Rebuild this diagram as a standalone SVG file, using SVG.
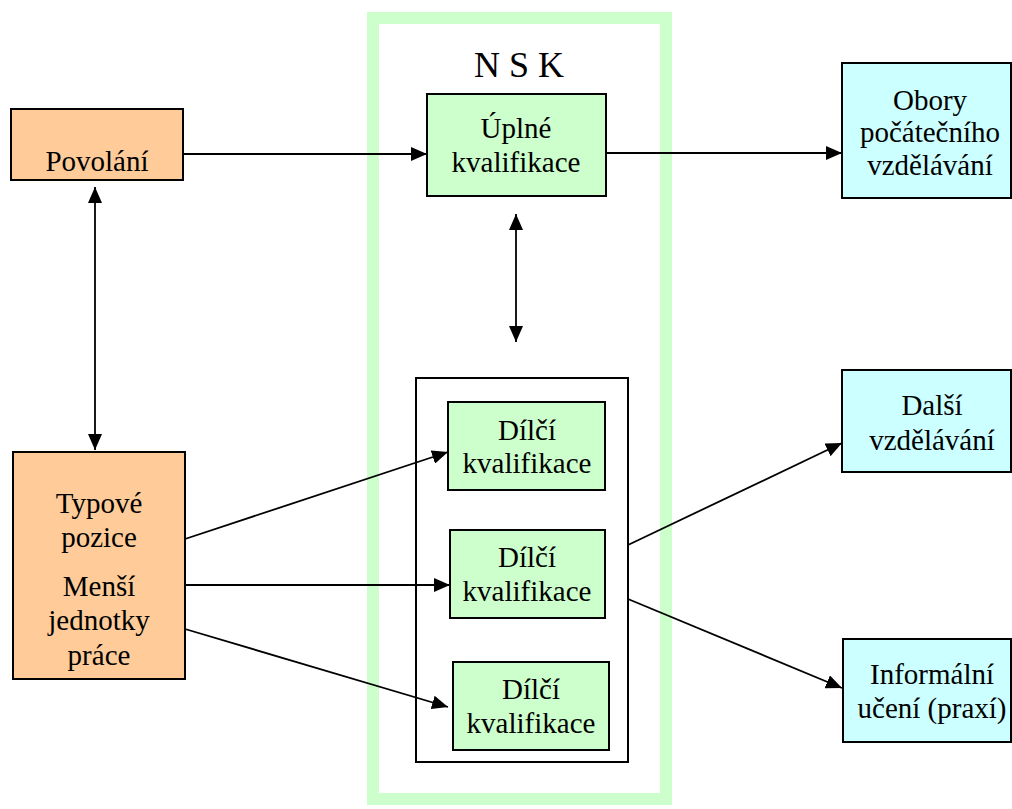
<svg xmlns="http://www.w3.org/2000/svg" width="1012" height="809" viewBox="0 0 1012 809">
<style>
.t{font-family:'Liberation Serif','DejaVu Serif',serif;font-size:29px;fill:#000;text-anchor:middle}
.box{stroke:#000;stroke-width:2}
.or{fill:#FFCC99}
.gr{fill:#CCFFCC}
.cy{fill:#CCFFFF}
.ln{stroke:#000;stroke-width:1.8;fill:none}
</style>
<defs>
<marker id="ah" markerUnits="userSpaceOnUse" viewBox="0 0 16 14" refX="16" refY="7" markerWidth="16" markerHeight="14" orient="auto-start-reverse">
<path d="M0,0 L16,7 L0,14 z" fill="#000"/>
</marker>
</defs>
<rect width="1012" height="809" fill="#fff"/>
<g id="nsk-frame">
<rect x="373" y="18" width="293" height="781" fill="none" stroke="#CCFFCC" stroke-width="12"/>
<text class="t" x="519" y="77" style="font-size:36px">N S K</text>
</g>
<g id="povolani">
<rect class="box or" x="11" y="109" width="172" height="71"/>
<text class="t" x="97" y="171">Povolání</text>
</g>
<g id="typove">
<rect class="box or" x="13" y="452" width="172" height="227"/>
<text class="t" x="99" y="513">Typové</text>
<text class="t" x="99" y="547">pozice</text>
<text class="t" x="99" y="596">Menší</text>
<text class="t" x="99" y="630">jednotky</text>
<text class="t" x="99" y="665">práce</text>
</g>
<g id="uplne">
<rect class="box gr" x="427" y="94" width="179" height="102"/>
<text class="t" x="516" y="138">Úplné</text>
<text class="t" x="516" y="172">kvalifikace</text>
</g>
<g id="dilci-group">
<rect x="416" y="378" width="212" height="384" fill="#fff" stroke="#000" stroke-width="2"/>
</g>
<g id="dilci1">
<rect class="box gr" x="448" y="402" width="157" height="88"/>
<text class="t" x="527" y="440">Dílčí</text>
<text class="t" x="527" y="473">kvalifikace</text>
</g>
<g id="dilci2">
<rect class="box gr" x="450" y="530" width="155" height="88"/>
<text class="t" x="527" y="567">Dílčí</text>
<text class="t" x="527" y="601">kvalifikace</text>
</g>
<g id="dilci3">
<rect class="box gr" x="453" y="662" width="156" height="88"/>
<text class="t" x="531" y="699">Dílčí</text>
<text class="t" x="531" y="733">kvalifikace</text>
</g>
<g id="obory">
<rect class="box cy" x="842" y="63" width="169" height="135"/>
<text class="t" x="930" y="110">Obory</text>
<text class="t" x="930" y="142">počátečního</text>
<text class="t" x="930" y="175">vzdělávání</text>
</g>
<g id="dalsi">
<rect class="box cy" x="842" y="370" width="169" height="102"/>
<text class="t" x="932" y="415">Další</text>
<text class="t" x="932" y="450">vzdělávání</text>
</g>
<g id="informalni">
<rect class="box cy" x="843" y="639" width="168" height="103"/>
<text class="t" x="932" y="684">Informální</text>
<text class="t" x="932" y="718">učení (praxí)</text>
</g>
<g id="connectors">
<line class="ln" x1="183" y1="154" x2="427" y2="154" marker-end="url(#ah)"/>
<line class="ln" x1="606" y1="153" x2="842" y2="153" marker-end="url(#ah)"/>
<line class="ln" x1="516" y1="214" x2="516" y2="342" marker-start="url(#ah)" marker-end="url(#ah)"/>
<line class="ln" x1="95" y1="187" x2="95" y2="450" marker-start="url(#ah)" marker-end="url(#ah)"/>
<line class="ln" x1="185" y1="539" x2="448" y2="452" marker-end="url(#ah)"/>
<line class="ln" x1="185" y1="585" x2="450" y2="585" marker-end="url(#ah)"/>
<line class="ln" x1="185" y1="629" x2="448" y2="707" marker-end="url(#ah)"/>
<line class="ln" x1="628" y1="545" x2="842" y2="443" marker-end="url(#ah)"/>
<line class="ln" x1="628" y1="599" x2="842" y2="688" marker-end="url(#ah)"/>
</g>
</svg>
